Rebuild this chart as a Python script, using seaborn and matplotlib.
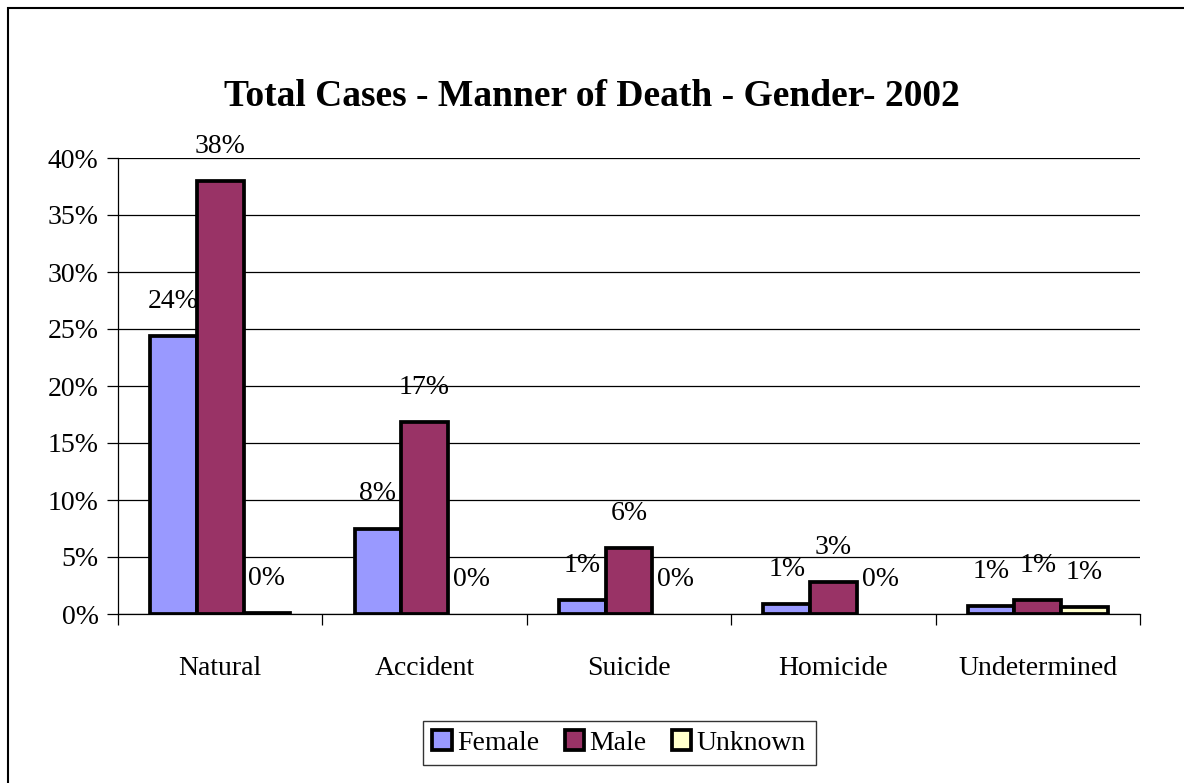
import pandas as pd
import matplotlib.pyplot as plt
import matplotlib.patches as mpatches
import seaborn as sns

# Data (percent of total cases)
manners = ['Natural', 'Accident', 'Suicide', 'Homicide', 'Undetermined']
genders = ['Female', 'Male', 'Unknown']
female = [24.4, 7.5, 1.2, 0.9, 0.7]
male = [38.0, 16.8, 5.8, 2.8, 1.2]
unknown = [0.1, 0.0, 0.0, 0.0, 0.6]
yticks = [0, 5, 10, 15, 20, 25, 30, 35, 40]

colors = {'Female': '#9999FF', 'Male': '#993366', 'Unknown': '#FFFFCC'}

rows = []
for g, vals in zip(genders, [female, male, unknown]):
    for m, v in zip(manners, vals):
        rows.append({'Manner': m, 'Gender': g, 'Pct': v})
df = pd.DataFrame(rows)

sns.set_style('white')
plt.rcParams['font.family'] = ['Liberation Serif', 'DejaVu Serif']
plt.rcParams['text.color'] = 'black'
plt.rcParams['xtick.color'] = 'black'
plt.rcParams['ytick.color'] = 'black'
plt.rcParams['axes.labelcolor'] = 'black'

fs = 20

fig = plt.figure(figsize=(11.84, 7.83), dpi=100)
ax = fig.add_axes([118 / 1184, 1 - 614 / 783, (1140 - 118) / 1184, (614 - 158) / 783])

sns.barplot(data=df, x='Manner', y='Pct', hue='Gender', order=manners, hue_order=genders,
            palette=colors, width=0.685, edgecolor='black', linewidth=2.7,
            saturation=1, ax=ax, legend=False)

# Labels on every bar, hide bars with no height
for cont, vals in zip(ax.containers, [female, male, unknown]):
    for bar in cont:
        if bar.get_height() == 0:
            bar.set_linewidth(0)
    ax.bar_label(cont, labels=[f'{round(v):.0f}%' for v in vals], padding=16, fontsize=fs)

ax.set_ylim(0, 40)
ax.set_xlim(-0.5, 4.5)
ax.set_yticks(yticks)
ax.set_yticklabels([f'{t}%' for t in yticks], fontsize=fs)
ax.yaxis.grid(True, color='black', linewidth=0.9)
ax.set_axisbelow(True)
ax.tick_params(axis='y', which='major', direction='out', length=8, width=0.9, color='black', left=True, pad=6)

ax.set_xticks([i - 0.5 for i in range(len(manners) + 1)])
ax.set_xticklabels([])
ax.set_xticks(range(len(manners)), minor=True)
ax.set_xticklabels(manners, minor=True, fontsize=fs)
ax.tick_params(axis='x', which='major', direction='out', length=8, width=0.9, color='black', bottom=True)
ax.tick_params(axis='x', which='minor', length=0, pad=30)

for s in ['top', 'right']:
    ax.spines[s].set_visible(False)
for s in ['left', 'bottom']:
    ax.spines[s].set_color('black')
    ax.spines[s].set_linewidth(0.9)
ax.set_xlabel('')
ax.set_ylabel('')

fig.text(0.5, 1 - 97 / 783, 'Total Cases - Manner of Death - Gender- 2002', ha='center', va='center',
         fontsize=27, fontweight='bold')

handles = [mpatches.Patch(facecolor=colors[g], edgecolor='black', linewidth=2.7, label=g) for g in genders]
leg = fig.legend(handles=handles, loc='center', bbox_to_anchor=(0.523, 1 - 743 / 783), ncol=3,
                 fontsize=fs, handlelength=0.7, handleheight=0.7, handletextpad=0.2,
                 columnspacing=0.9, frameon=True, fancybox=False, borderpad=0.35, borderaxespad=0)
leg.get_frame().set_edgecolor('black')
leg.get_frame().set_linewidth(1)

# Outer chart border
fig.patches.append(mpatches.Rectangle((8 / 1184, -0.05), 1.1, 1 - 8 / 783 + 0.05, transform=fig.transFigure,
                                      fill=False, edgecolor='black', linewidth=1.5))

fig.savefig('out.png', dpi=100)
